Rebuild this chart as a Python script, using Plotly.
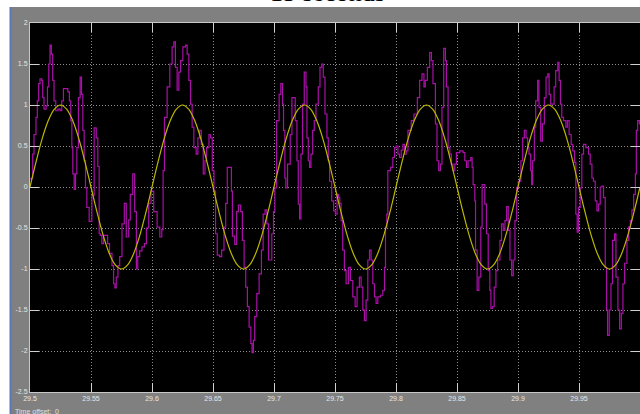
import plotly.graph_objects as go

# ---- data -------------------------------------------------------------
t0 = 29.5  # start of the 0.5 s window (s)

# measured (noisy) signal: time offset from t0 in ms, amplitude
meas_ms = [
    0.0, 1.4, 2.2, 3.3, 4.9, 6.0, 7.1, 8.2, 9.6, 10.4, 11.5, 13.2, 14.3, 15.4, 16.4,
    17.5, 18.6, 19.7, 21.1, 23.0, 24.7, 26.0, 27.4, 29.3, 31.0, 32.3, 33.4, 34.3, 35.1,
    36.2, 37.3, 38.4, 39.7, 41.1, 42.2, 43.3, 44.4, 45.5, 46.6, 48.5, 50.7, 52.6, 54.3,
    55.6, 56.7, 57.6, 58.9, 60.3, 62.5, 63.6, 65.2, 67.2, 68.5, 69.6, 70.7, 72.1, 73.5,
    75.4, 77.3, 78.9, 80.9, 82.2, 84.2, 85.8, 87.2, 88.3, 89.9, 91.8, 93.8, 95.4, 97.3,
    99.2, 101.4, 104.2, 106.4, 108.0, 109.1, 110.2, 112.4, 114.6, 116.5, 117.9, 119.2,
    120.6, 122.0, 123.4, 125.3, 127.5, 128.8, 130.2, 131.6, 132.9, 134.3, 136.2, 137.6,
    139.0, 140.4, 142.0, 143.4, 144.7, 146.7, 148.0, 149.4, 150.8, 152.1, 153.5, 155.4,
    157.1, 159.0, 160.4, 161.7, 163.4, 165.1, 165.9, 167.8, 169.4, 170.8, 172.7, 174.1,
    175.5, 176.8, 178.2, 179.6, 181.0, 182.0, 183.1, 184.2, 185.9, 187.8, 189.7, 191.1,
    192.7, 194.1, 195.5, 196.8, 198.2, 199.6, 200.7, 202.1, 204.2, 205.6, 207.0, 207.8,
    208.9, 209.7, 211.1, 213.3, 214.7, 216.0, 217.4, 218.8, 219.9, 221.0, 222.1, 223.4,
    224.8, 226.2, 227.0, 228.1, 229.2, 230.3, 231.7, 233.0, 234.4, 236.3, 237.7, 239.1,
    240.4, 241.8, 243.4, 244.5, 245.6, 247.3, 248.9, 250.3, 251.7, 252.8, 253.9, 255.0,
    256.3, 257.7, 259.1, 261.0, 262.6, 264.6, 266.5, 268.1, 270.0, 271.4, 272.8, 274.1,
    275.5, 276.9, 278.3, 279.6, 281.0, 282.4, 283.7, 285.1, 287.3, 289.2, 290.6, 291.4,
    292.5, 293.3, 295.5, 297.4, 298.8, 300.2, 301.6, 302.9, 304.3, 305.7, 307.0, 308.4,
    309.8, 312.5, 314.7, 317.5, 319.4, 321.3, 322.9, 324.0, 325.7, 327.6, 329.0, 330.3,
    332.3, 333.6, 335.0, 336.4, 337.7, 339.1, 340.5, 341.3, 342.7, 344.1, 345.4, 346.8,
    348.2, 349.5, 352.3, 355.0, 356.4, 357.8, 359.1, 361.3, 362.4, 363.2, 364.6, 365.2,
    366.5, 367.9, 369.5, 370.6, 372.0, 372.8, 374.2, 375.6, 376.9, 377.8, 379.1, 380.5,
    381.9, 383.3, 385.2, 386.5, 387.9, 389.3, 390.7, 392.0, 393.4, 394.8, 396.1, 397.5,
    398.9, 400.2, 402.4, 403.8, 405.2, 406.6, 407.9, 409.0, 410.4, 411.2, 412.0, 413.4,
    414.5, 416.1, 417.2, 418.6, 420.0, 421.6, 423.0, 424.4, 425.5, 426.8, 428.2, 429.6,
    430.9, 432.6, 433.7, 434.8, 435.9, 437.3, 439.2, 440.5, 441.9, 443.6, 444.9, 446.3,
    447.4, 448.5, 449.6, 451.0, 452.3, 453.7, 455.6, 457.8, 459.2, 460.6, 461.9, 463.3,
    464.7, 466.0, 467.4, 468.8, 470.1, 471.5, 472.6, 473.4, 474.8, 476.2, 477.5, 479.2,
    480.3, 481.9, 483.3, 484.7, 486.0, 487.4, 489.3, 490.7, 492.1, 493.4, 494.8, 496.2,
    497.0, 498.1, 499.5, 500.6,
]
meas_val = [
    0.10, 0.11, 0.40, 0.64, 0.85, 1.05, 1.26, 1.32, 1.30, 1.09, 0.95, 0.99, 1.22, 1.50, 1.73,
    1.62, 1.30, 1.05, 0.93, 0.95, 0.93, 1.05, 1.20, 1.20, 1.16, 1.05, 0.81, 0.48, 0.16,
    -0.03, 0.16, 0.48, 1.09, 1.34, 1.13, 0.69, 0.32, -0.01, -0.25, -0.42, -0.10, 0.72, 0.60,
    0.25, -0.57, -0.59, -0.69, -0.59, -0.59, -0.69, -0.81, -0.96, -1.18, -1.23, -1.10, -0.96, -0.85,
    -0.45, -0.20, -0.61, -0.40, -0.09, 0.16, -0.30, -1.00, -0.85, -0.78, -0.73, -0.69, -0.50, -0.20,
    -0.05, -0.30, -0.49, -0.61, -0.52, 0.20, 0.85, 1.22, 1.50, 1.71, 1.77, 1.46,
    1.18, 1.40, 1.54, 1.71, 1.73, 1.62, 1.30, 1.01, 0.73, 0.48, 0.40, 0.60,
    0.69, 0.52, 0.16, 0.32, 0.48, 0.64, 0.60, 0.20, -0.05, -0.57, -0.83, -0.85,
    -0.77, -0.49, -0.20, 0.24, 0.24, -0.05, -0.60, -0.70, -0.30, -0.22, -0.30, -0.65,
    -0.98, -1.22, -1.46, -1.71, -1.91, -2.02, -1.87, -1.58, -1.30, -1.06, -0.77, -0.33,
    -0.28, -0.45, -0.89, -0.89, -0.57, -0.30, -0.01, 0.81, 1.13, 1.26, 1.01, 0.69,
    0.11, -0.01, 0.28, 0.64, 1.09, 1.09, 0.81, 0.32, -0.21, -0.39, 0.40, 1.01,
    1.40, 1.22, 0.60, 0.32, 0.24, 0.40, 0.69, 0.81, 1.01, 1.22, 1.46, 1.50,
    1.34, 0.89, 0.60, 0.32, 0.07, -0.17, -0.29, -0.33, -0.09, -0.13, -0.20, -0.41,
    -0.77, -1.02, -1.18, -0.98, -1.14, -1.34, -1.46, -1.22, -1.10, -1.22, -1.50, -1.63,
    -1.38, -0.89, -0.77, -0.89, -1.18, -1.34, -1.42, -1.34, -1.32, -1.26, -0.98, -0.49,
    -0.33, 0.20, 0.24, 0.36, 0.48, 0.50, 0.40, 0.36, 0.45, 0.52, 0.40, 0.44,
    0.69, 0.81, 0.89, 1.09, 1.30, 1.38, 1.22, 1.30, 1.46, 1.64, 1.54, 1.26,
    0.77, 0.32, 0.20, 0.28, 0.97, 1.69, 1.54, 1.22, 0.48, 0.40, 0.28, 0.20,
    0.28, 0.42, 0.44, 0.42, 0.32, 0.24, 0.32, 0.36, 0.24, 0.03, -0.17, -0.77,
    -1.26, -1.10, -0.49, 0.03, 0.03, -0.21, -0.57, -1.02, -1.26, -1.48, -1.46, -1.22,
    -1.02, -0.89, -0.65, -0.45, -0.53, -0.41, -0.24, -0.53, -0.89, -1.08, -0.89, -0.41,
    -0.01, 0.07, 0.32, 0.60, 0.69, 0.60, 0.48, 0.40, 0.20, 0.03, 0.32, 0.73,
    1.05, 1.30, 0.97, 0.56, 0.77, 1.09, 1.34, 1.38, 1.13, 1.01, 1.01, 1.22,
    1.42, 1.52, 1.30, 1.01, 0.85, 0.81, 0.73, 0.81, 0.64, 0.52, 0.44, 0.30,
    -0.33, -0.55, -0.25, -0.01, 0.40, 0.52, 0.48, 0.40, 0.28, 0.11, 0.07, -0.17,
    -0.29, -0.21, 0.00, 0.01, -0.13, -0.98, -1.50, -1.81, -1.50, -1.18, -0.65, -0.57,
    -1.10, -1.50, -1.73, -1.54, -1.18, -0.93, -0.65, -0.49, -0.41, -0.28, -0.09, 0.16,
    0.69, 0.81, 0.77, 0.40,
]

# reference sine: sampled every 5 ms over the window
ref_step_ms = 5
ref_val = [
    0.00, 0.31, 0.59, 0.81, 0.95, 1.00, 0.95, 0.81, 0.59, 0.31,
    0.00, -0.31, -0.59, -0.81, -0.95, -1.00, -0.95, -0.81, -0.59, -0.31,
    0.00, 0.31, 0.59, 0.81, 0.95, 1.00, 0.95, 0.81, 0.59, 0.31,
    0.00, -0.31, -0.59, -0.81, -0.95, -1.00, -0.95, -0.81, -0.59, -0.31,
    0.00, 0.31, 0.59, 0.81, 0.95, 1.00, 0.95, 0.81, 0.59, 0.31,
    0.00, -0.31, -0.59, -0.81, -0.95, -1.00, -0.95, -0.81, -0.59, -0.31,
    0.00, 0.31, 0.59, 0.81, 0.95, 1.00, 0.95, 0.81, 0.59, 0.31,
    0.00, -0.31, -0.59, -0.81, -0.95, -1.00, -0.95, -0.81, -0.59, -0.31,
    0.00, 0.31, 0.59, 0.81, 0.95, 1.00, 0.95, 0.81, 0.59, 0.31,
    0.00, -0.31, -0.59, -0.81, -0.95, -1.00, -0.95, -0.81, -0.59, -0.31,
    0.00,
]

x_ticks = [29.5, 29.55, 29.6, 29.65, 29.7, 29.75, 29.8, 29.85, 29.9, 29.95, 30.0]
x_tick_labels = ["29.5", "29.55", "29.6", "29.65", "29.7", "29.75", "29.8",
                 "29.85", "29.9", "29.95", "30"]
y_ticks = [2, 1.5, 1, 0.5, 0, -0.5, -1, -1.5, -2, -2.5]
y_tick_labels = ["2", "1.5", "1", "0.5", "0", "-0.5", "-1", "-1.5", "-2", "-2.5"]

title_text = "15 seconds"
offset_text = "Time offset:  0"

# ---- figure -----------------------------------------------------------
meas_t = [t0 + ms / 1000.0 for ms in meas_ms]
ref_t = [t0 + i * ref_step_ms / 1000.0 for i in range(len(ref_val))]

fig = go.Figure()
fig.add_trace(go.Scatter(
    x=meas_t, y=meas_val, mode="lines", line_shape="hv",
    line=dict(color="#a810a8", width=1.2), hoverinfo="skip"))
fig.add_trace(go.Scatter(
    x=ref_t, y=ref_val, mode="lines", line_shape="spline",
    line=dict(color="#bdb800", width=1.2), hoverinfo="skip"))

W, H = 640, 414
ML, MR, MT, MB = 30, 0, 23, 22
PW, PH = W - ML - MR, H - MT - MB


def px_x(px):
    return (px - ML) / PW


def px_y(py):
    return 1 - (py - MT) / PH


tick_font = dict(family="Liberation Sans, Arial, sans-serif", size=7, color="#e6e6e6")
axis_common = dict(
    ticks="inside", ticklen=9, tickwidth=1, tickcolor="#d0d0d0",
    showline=True, linecolor="#c8c8c8", linewidth=1, mirror="allticks",
    showgrid=True, gridcolor="#8c8c8c", griddash="1px,2px", gridwidth=1,
    zeroline=False, tickfont=tick_font, fixedrange=True,
)

fig.update_layout(
    width=W, height=H,
    margin=dict(l=ML, r=MR, t=MT, b=MB, pad=0),
    paper_bgcolor="#808080", plot_bgcolor="#000000",
    showlegend=False,
    xaxis=dict(range=[29.5, 30.0], tickvals=x_ticks, ticktext=x_tick_labels, **axis_common),
    yaxis=dict(range=[-2.5, 2.0], tickvals=y_ticks, ticktext=y_tick_labels, **axis_common),
    shapes=[
        # white page strip to the left of the scope window
        dict(type="rect", xref="paper", yref="paper", x0=px_x(0), x1=px_x(10),
             y0=px_y(H), y1=px_y(0), fillcolor="white", line_width=0, layer="above"),
        # white page strip above the scope window
        dict(type="rect", xref="paper", yref="paper", x0=px_x(0), x1=px_x(W),
             y0=px_y(7), y1=px_y(0), fillcolor="white", line_width=0, layer="above"),
        # window border
        dict(type="line", xref="paper", yref="paper", x0=px_x(10.5), x1=px_x(10.5),
             y0=px_y(H), y1=px_y(7), line=dict(color="#5a78b4", width=2), layer="above"),
    ],
    annotations=[
        dict(text=title_text, xref="paper", yref="paper", x=px_x(327), y=1,
             xanchor="center", yanchor="bottom", yshift=14, showarrow=False,
             font=dict(family="Liberation Serif, Times New Roman, serif", size=26,
                       color="black"), ),
        dict(text=offset_text, xref="paper", yref="paper", x=px_x(13), y=px_y(406),
             xanchor="left", yanchor="top", showarrow=False,
             font=dict(family="Liberation Sans, Arial, sans-serif", size=7, color="#e0e0e0")),
    ],
)

fig.write_html("out.html")
